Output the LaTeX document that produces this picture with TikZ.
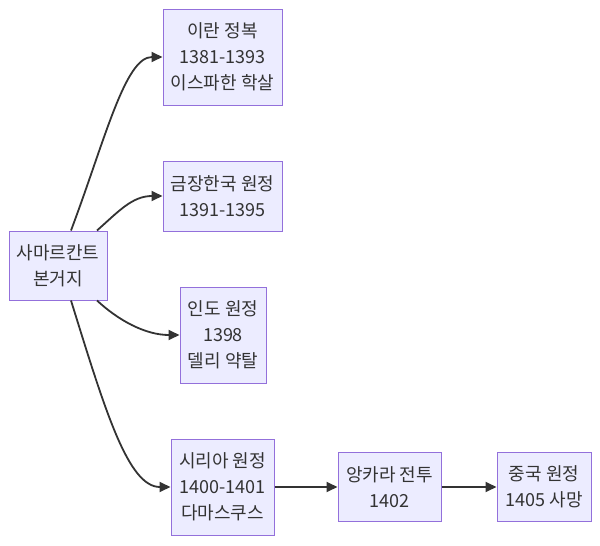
\documentclass[tikz,border=0pt]{standalone}
\usepackage{fontspec}
\newfontfamily\krfont{Noto Sans CJK KR}
\usetikzlibrary{arrows.meta,positioning}
\definecolor{boxfill}{HTML}{ECECFF}
\definecolor{boxline}{HTML}{9370DB}
\definecolor{edgeline}{HTML}{333333}

\begin{document}
\begin{tikzpicture}[x=1pt,y=-1pt,
  every node/.style={font=\krfont\fontsize{18}{26}\selectfont,text=edgeline},
  event/.style={draw=boxline,fill=boxfill,line width=1pt,align=center,inner sep=0pt},
  link/.style={draw=edgeline,line width=1.8pt,-{Triangle[length=11pt,width=10pt]}}]
  \useasboundingbox (0,0) rectangle (600,546);
  % nodes
  \node[event,minimum width=98,minimum height=69]  (base)   at (58,265.5) {사마르칸트\\본거지};
  \node[event,minimum width=119,minimum height=96] (iran)   at (222.5,57) {이란 정복\\1381-1393\\이스파한 학살};
  \node[event,minimum width=119,minimum height=70] (horde)  at (222.5,196) {금장한국 원정\\1391-1395};
  \node[event,minimum width=86,minimum height=96]  (india)  at (223,335) {인도 원정\\1398\\델리 약탈};
  \node[event,minimum width=103,minimum height=96] (syria)  at (222.5,487) {시리아 원정\\1400-1401\\다마스쿠스};
  \node[event,minimum width=103,minimum height=69] (ankara) at (389.5,487) {앙카라 전투\\1402};
  \node[event,minimum width=94,minimum height=69]  (china)  at (544,487) {중국 원정\\1405 사망};
  % connectors
  \draw[link] ([xshift=13]base.north) .. controls (105,140) and (125,57) .. (iran.west);
  \draw[link] ([xshift=39]base.north) .. controls (118,212) and (132,196) .. (horde.west);
  \draw[link] ([xshift=39]base.south) .. controls (118,320) and (145,335) .. (india.west);
  \draw[link] ([xshift=13]base.south) .. controls (105,410) and (128,487) .. (syria.west);
  \draw[link] (syria) -- (ankara);
  \draw[link] (ankara) -- (china);
\end{tikzpicture}
\end{document}
